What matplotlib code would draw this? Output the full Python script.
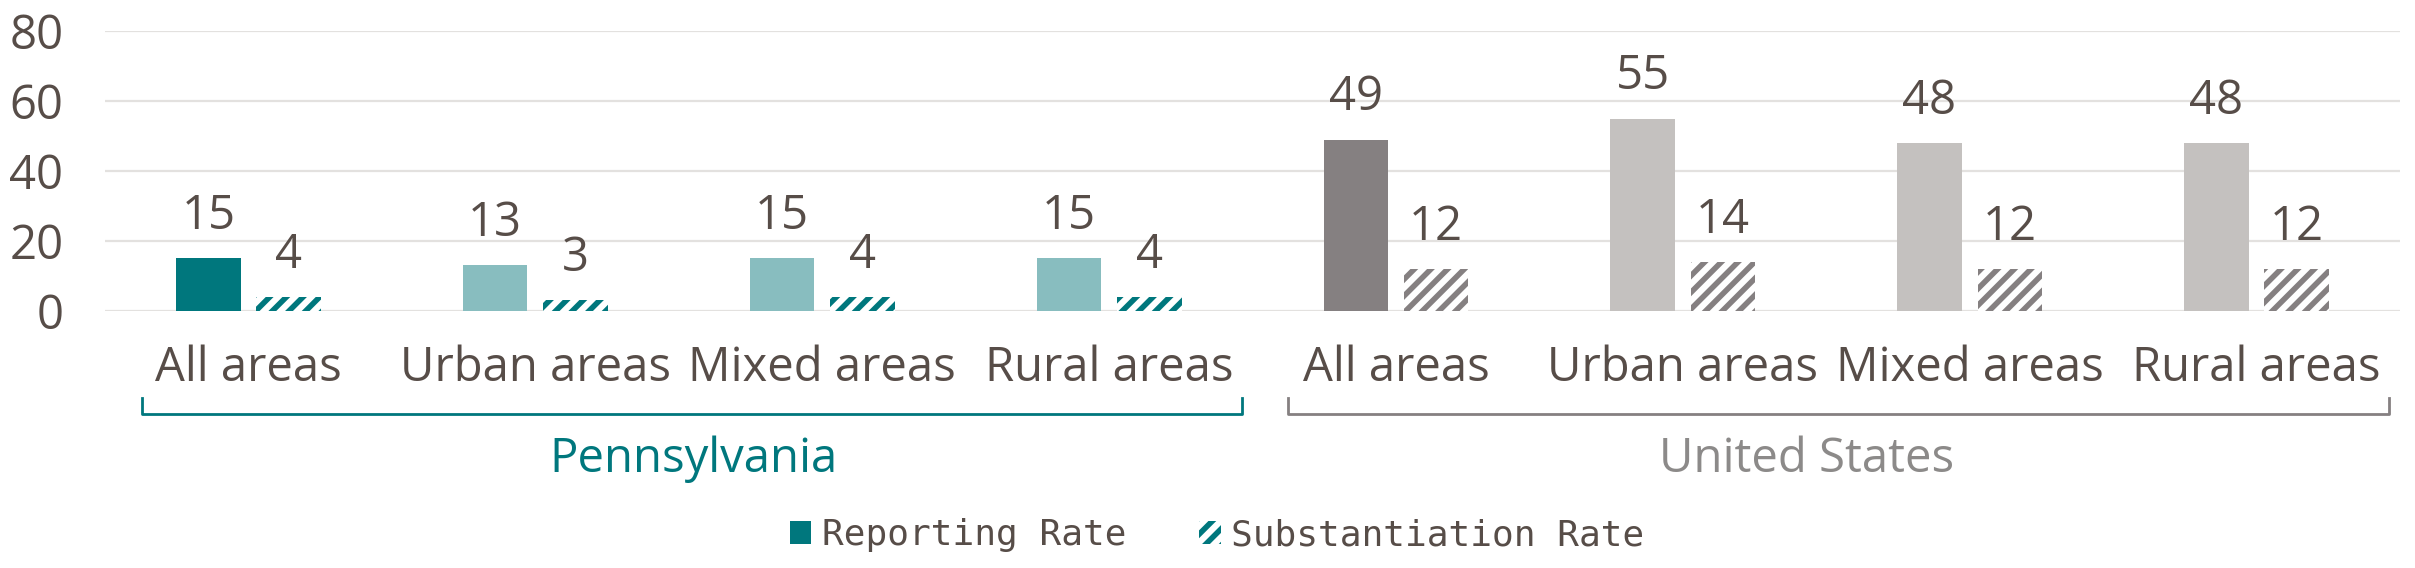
import numpy as np
import matplotlib
matplotlib.use("Agg")
import matplotlib.pyplot as plt
import matplotlib.transforms as mtransforms
from matplotlib.patches import Patch

# data
categories = ["All areas", "Urban areas", "Mixed areas", "Rural areas",
              "All areas", "Urban areas", "Mixed areas", "Rural areas"]
groups = ["Pennsylvania", "United States"]
reporting = [15, 13, 15, 15, 49, 55, 48, 48]
substantiation = [4, 3, 4, 4, 12, 14, 12, 12]

txt = "#574D48"
teal = "#00777D"
teal_lt = "#88BDBF"
gray = "#858081"
gray_lt = "#C4C1BF"
grid_c = "#E3E1DF"

plt.rcParams["font.family"] = ["Open Sans", "DejaVu Sans"]
plt.rcParams["hatch.linewidth"] = 4

rep_colors = [teal, teal_lt, teal_lt, teal_lt, gray, gray_lt, gray_lt, gray_lt]
hatch_colors = [teal] * 4 + [gray] * 4

fig = plt.figure(figsize=(24.15, 5.68), dpi=100)
ax = fig.add_axes([0.0435, 0.4525, 0.9503, 0.4929])

x = np.arange(len(categories))
w = 0.225
off = 0.14
b1 = ax.bar(x - off, reporting, width=w, color=rep_colors, linewidth=0, zorder=3)
b2 = ax.bar(x + off, substantiation, width=w, color="white", edgecolor=hatch_colors,
            linewidth=0, hatch="//", zorder=3)

for bars, vals in [(b1, reporting), (b2, substantiation)]:
    for r, v in zip(bars, vals):
        ax.annotate(str(v), (r.get_x() + r.get_width() / 2, v), xytext=(0, 21),
                    textcoords="offset points", ha="center", va="baseline",
                    fontsize=34, color=txt)

ax.set_xlim(-0.5, 7.5)
ax.set_ylim(0, 80)
ax.set_yticks([0, 20, 40, 60, 80])
ax.set_xticks(x)
ax.set_xticklabels(categories)
ax.tick_params(axis="both", length=0, labelsize=34, labelcolor=txt)
ax.tick_params(axis="y", pad=30)
ax.tick_params(axis="x", pad=24)
ax.grid(axis="y", color=grid_c, linewidth=1.6)
ax.set_axisbelow(True)
for s in ax.spines.values():
    s.set_visible(False)

# group brackets under the category labels
tr = mtransforms.blended_transform_factory(ax.transData, fig.transFigure)
brackets = [(-0.37, 3.465, teal), (3.625, 7.46, gray)]
y_lo, y_hi = 0.271, 0.299
for (x0, x1, c) in brackets:
    ax.plot([x0, x0, x1, x1], [y_hi, y_lo, y_lo, y_hi], color=c, lw=2,
            transform=tr, clip_on=False, solid_joinstyle="round")
ax.text(1.55, 0.192, groups[0], transform=tr, ha="center", va="center",
        fontsize=34, color=teal)
ax.text(5.43, 0.192, groups[1], transform=tr, ha="center", va="center",
        fontsize=34, color="#8C8A89")

handles = [Patch(facecolor=teal, linewidth=0),
           Patch(facecolor="white", edgecolor=teal, hatch="//", linewidth=0)]
fig.legend(handles, ["Reporting Rate", "Substantiation Rate"], loc="center",
           bbox_to_anchor=(0.504, 0.058), ncol=2, frameon=False,
           prop={"family": "DejaVu Sans Mono", "size": 26}, labelcolor=txt,
           handlelength=0.6, handleheight=0.6, handletextpad=0.3,
           columnspacing=2.0)

fig.savefig("out.png", dpi=100)
